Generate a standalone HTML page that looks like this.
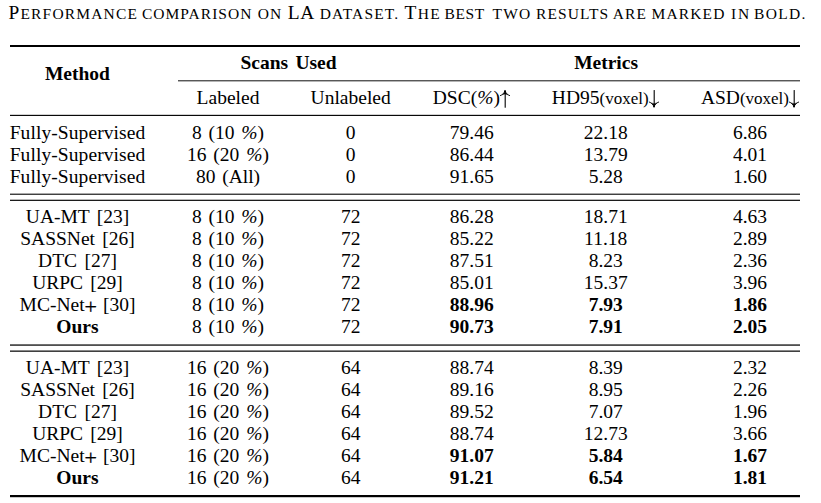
<!DOCTYPE html>
<html><head><meta charset="utf-8"><title>Table</title><style>
html,body{margin:0;padding:0;background:#fff;}
body{width:821px;height:503px;position:relative;overflow:hidden;font-family:"Liberation Serif",serif;color:#000;}
.c{position:absolute;width:140px;text-align:center;font-size:19.5px;line-height:22px;height:22px;white-space:nowrap;word-spacing:2.4px;}
.b{font-weight:bold;}
.s{font-size:17px;}
.pl{font-size:22px;line-height:0;position:relative;top:2.5px;margin:0 -1.2px 0 -0.2px;-webkit-text-stroke:0.3px #000;}
.r{position:absolute;}
.ar{display:inline-block;vertical-align:baseline;margin-bottom:-3.9px;margin-left:0.2px;overflow:visible;}
.ar path{fill:none;stroke:#000;stroke-linecap:round;stroke-linejoin:round;}
.ad{margin-left:0.3px;}
.ar .sh{stroke-width:1.1;}
.ar .hd{stroke-width:1.0;}
.ar .fl{fill:#000;stroke-width:0.3;}
#title{position:absolute;left:0;top:1.67px;width:821px;height:24px;font-size:15.5px;line-height:24px;}
#title .w{position:absolute;top:0;white-space:nowrap;}
#title .B{font-size:19.4px;line-height:0;}
</style></head><body>
<div id="title"><span class="w" style="left:8.50px;letter-spacing:1.17px"><span class="B">P</span>ERFORMANCE</span><span class="w" style="left:142.00px;letter-spacing:1.02px">COMPARISON</span><span class="w" style="left:257.75px;letter-spacing:1.00px">ON</span><span class="w" style="left:287.70px;letter-spacing:0.60px"><span class="B">LA</span></span><span class="w" style="left:319.75px;letter-spacing:1.14px">DATASET.</span><span class="w" style="left:404.50px;letter-spacing:1.38px"><span class="B">T</span>HE</span><span class="w" style="left:444.60px;letter-spacing:0.60px">BEST</span><span class="w" style="left:492.50px;letter-spacing:1.25px">TWO</span><span class="w" style="left:536.00px;letter-spacing:1.08px">RESULTS</span><span class="w" style="left:612.75px;letter-spacing:1.12px">ARE</span><span class="w" style="left:651.50px;letter-spacing:1.15px">MARKED</span><span class="w" style="left:731.10px;letter-spacing:1.80px">IN</span><span class="w" style="left:754.00px;letter-spacing:1.31px">BOLD.</span></div>
<div class="r" style="left:10px;top:45px;width:790px;height:2px;background:#000"></div>
<div class="r" style="left:178px;top:80px;width:622px;height:1px;background:#585858"></div>
<div class="r" style="left:178px;top:81px;width:622px;height:1px;background:#b4b4b4"></div>
<div class="r" style="left:10px;top:114px;width:790px;height:1px;background:#d0d0d0"></div>
<div class="r" style="left:10px;top:115px;width:790px;height:1px;background:#080808"></div>
<div class="r" style="left:10px;top:193px;width:790px;height:1px;background:#a8a8a8"></div>
<div class="r" style="left:10px;top:194px;width:790px;height:1px;background:#404040"></div>
<div class="r" style="left:10px;top:199px;width:790px;height:1px;background:#b8b8b8"></div>
<div class="r" style="left:10px;top:200px;width:790px;height:1px;background:#1c1c1c"></div>
<div class="r" style="left:10px;top:344px;width:790px;height:1px;background:#707070"></div>
<div class="r" style="left:10px;top:345px;width:790px;height:1px;background:#505050"></div>
<div class="r" style="left:10px;top:350px;width:790px;height:1px;background:#888888"></div>
<div class="r" style="left:10px;top:351px;width:790px;height:1px;background:#404040"></div>
<div class="r" style="left:10px;top:495px;width:790px;height:1px;background:#000"></div>
<div class="r" style="left:10px;top:496px;width:790px;height:1px;background:#000"></div>
<div class="r" style="left:10px;top:497px;width:790px;height:1px;background:#c8c8c8"></div>
<div class="c b" style="left:7.40px;top:63.22px;">Method</div>
<div class="c b" style="left:218.50px;top:52.22px;">Scans Used</div>
<div class="c b" style="left:536.10px;top:52.22px;">Metrics</div>
<div class="c" style="left:158.00px;top:87.22px;">Labeled</div>
<div class="c" style="left:280.70px;top:87.22px;">Unlabeled</div>
<div class="c" style="left:401.70px;top:87.22px;">DSC(<i>%</i>)<svg class="ar au" width="10.6" height="18" viewBox="0 0 10.6 18"><path class="sh" d="M5.2 1.0V17.15"/><path class="hd" d="M0.45 5.55C2.50 4.75 4.30 3.25 5.00 0.55C5.70 3.25 7.50 4.75 9.55 5.55"/><path class="fl" d="M5.00 0.45C4.60 2.65 3.80 3.85 2.70 4.75L5.00 3.95L7.30 4.75C6.20 3.85 5.40 2.65 5.00 0.45Z"/></svg></div>
<div class="c" style="left:535.70px;top:87.22px;">HD95<span class="s">(voxel)</span><svg class="ar ad" width="10.6" height="18" viewBox="0 0 10.6 18"><path class="sh" d="M5.2 0.6V16.6"/><path class="hd" d="M0.45 12.10C2.50 12.90 4.30 14.40 5.00 17.10C5.70 14.40 7.50 12.90 9.55 12.10"/><path class="fl" d="M5.00 17.20C4.60 15.00 3.80 13.80 2.70 12.90L5.00 13.70L7.30 12.90C6.20 13.80 5.40 15.00 5.00 17.20Z"/></svg></div>
<div class="c" style="left:680.40px;top:87.22px;">ASD<span class="s">(voxel)</span><svg class="ar ad" width="10.6" height="18" viewBox="0 0 10.6 18"><path class="sh" d="M5.2 0.6V16.6"/><path class="hd" d="M0.45 12.10C2.50 12.90 4.30 14.40 5.00 17.10C5.70 14.40 7.50 12.90 9.55 12.10"/><path class="fl" d="M5.00 17.20C4.60 15.00 3.80 13.80 2.70 12.90L5.00 13.70L7.30 12.90C6.20 13.80 5.40 15.00 5.00 17.20Z"/></svg></div>
<div class="c" style="left:7.50px;top:122.22px;letter-spacing:0.08px;">Fully-Supervised</div>
<div class="c" style="left:158.00px;top:122.22px;word-spacing:1.9px;">8 (10 <i>%</i>)</div>
<div class="c" style="left:280.70px;top:122.22px;">0</div>
<div class="c" style="left:401.70px;top:122.22px;">79.46</div>
<div class="c" style="left:535.70px;top:122.22px;">22.18</div>
<div class="c" style="left:680.00px;top:122.22px;">6.86</div>
<div class="c" style="left:7.50px;top:144.22px;letter-spacing:0.08px;">Fully-Supervised</div>
<div class="c" style="left:158.00px;top:144.22px;word-spacing:1.9px;">16 (20 <i>%</i>)</div>
<div class="c" style="left:280.70px;top:144.22px;">0</div>
<div class="c" style="left:401.70px;top:144.22px;">86.44</div>
<div class="c" style="left:535.70px;top:144.22px;">13.79</div>
<div class="c" style="left:680.00px;top:144.22px;">4.01</div>
<div class="c" style="left:7.50px;top:166.22px;letter-spacing:0.08px;">Fully-Supervised</div>
<div class="c" style="left:158.00px;top:166.22px;word-spacing:1.9px;">80 (All)</div>
<div class="c" style="left:280.70px;top:166.22px;">0</div>
<div class="c" style="left:401.70px;top:166.22px;">91.65</div>
<div class="c" style="left:535.70px;top:166.22px;">5.28</div>
<div class="c" style="left:680.00px;top:166.22px;">1.60</div>
<div class="c" style="left:7.50px;top:206.22px;">UA-MT [23]</div>
<div class="c" style="left:158.00px;top:206.22px;word-spacing:1.9px;">8 (10 <i>%</i>)</div>
<div class="c" style="left:280.70px;top:206.22px;">72</div>
<div class="c" style="left:401.70px;top:206.22px;">86.28</div>
<div class="c" style="left:535.70px;top:206.22px;">18.71</div>
<div class="c" style="left:680.00px;top:206.22px;">4.63</div>
<div class="c" style="left:7.50px;top:228.22px;">SASSNet [26]</div>
<div class="c" style="left:158.00px;top:228.22px;word-spacing:1.9px;">8 (10 <i>%</i>)</div>
<div class="c" style="left:280.70px;top:228.22px;">72</div>
<div class="c" style="left:401.70px;top:228.22px;">85.22</div>
<div class="c" style="left:535.70px;top:228.22px;">11.18</div>
<div class="c" style="left:680.00px;top:228.22px;">2.89</div>
<div class="c" style="left:7.50px;top:250.22px;">DTC [27]</div>
<div class="c" style="left:158.00px;top:250.22px;word-spacing:1.9px;">8 (10 <i>%</i>)</div>
<div class="c" style="left:280.70px;top:250.22px;">72</div>
<div class="c" style="left:401.70px;top:250.22px;">87.51</div>
<div class="c" style="left:535.70px;top:250.22px;">8.23</div>
<div class="c" style="left:680.00px;top:250.22px;">2.36</div>
<div class="c" style="left:7.50px;top:272.22px;">URPC [29]</div>
<div class="c" style="left:158.00px;top:272.22px;word-spacing:1.9px;">8 (10 <i>%</i>)</div>
<div class="c" style="left:280.70px;top:272.22px;">72</div>
<div class="c" style="left:401.70px;top:272.22px;">85.01</div>
<div class="c" style="left:535.70px;top:272.22px;">15.37</div>
<div class="c" style="left:680.00px;top:272.22px;">3.96</div>
<div class="c" style="left:7.50px;top:294.22px;">MC-Net<span class="pl">+</span> [30]</div>
<div class="c" style="left:158.00px;top:294.22px;word-spacing:1.9px;">8 (10 <i>%</i>)</div>
<div class="c" style="left:280.70px;top:294.22px;">72</div>
<div class="c b" style="left:401.70px;top:294.22px;">88.96</div>
<div class="c b" style="left:535.70px;top:294.22px;">7.93</div>
<div class="c b" style="left:680.00px;top:294.22px;">1.86</div>
<div class="c b" style="left:7.50px;top:316.22px;">Ours</div>
<div class="c" style="left:158.00px;top:316.22px;word-spacing:1.9px;">8 (10 <i>%</i>)</div>
<div class="c" style="left:280.70px;top:316.22px;">72</div>
<div class="c b" style="left:401.70px;top:316.22px;">90.73</div>
<div class="c b" style="left:535.70px;top:316.22px;">7.91</div>
<div class="c b" style="left:680.00px;top:316.22px;">2.05</div>
<div class="c" style="left:7.50px;top:357.22px;">UA-MT [23]</div>
<div class="c" style="left:158.00px;top:357.22px;word-spacing:1.9px;">16 (20 <i>%</i>)</div>
<div class="c" style="left:280.70px;top:357.22px;">64</div>
<div class="c" style="left:401.70px;top:357.22px;">88.74</div>
<div class="c" style="left:535.70px;top:357.22px;">8.39</div>
<div class="c" style="left:680.00px;top:357.22px;">2.32</div>
<div class="c" style="left:7.50px;top:379.22px;">SASSNet [26]</div>
<div class="c" style="left:158.00px;top:379.22px;word-spacing:1.9px;">16 (20 <i>%</i>)</div>
<div class="c" style="left:280.70px;top:379.22px;">64</div>
<div class="c" style="left:401.70px;top:379.22px;">89.16</div>
<div class="c" style="left:535.70px;top:379.22px;">8.95</div>
<div class="c" style="left:680.00px;top:379.22px;">2.26</div>
<div class="c" style="left:7.50px;top:401.22px;">DTC [27]</div>
<div class="c" style="left:158.00px;top:401.22px;word-spacing:1.9px;">16 (20 <i>%</i>)</div>
<div class="c" style="left:280.70px;top:401.22px;">64</div>
<div class="c" style="left:401.70px;top:401.22px;">89.52</div>
<div class="c" style="left:535.70px;top:401.22px;">7.07</div>
<div class="c" style="left:680.00px;top:401.22px;">1.96</div>
<div class="c" style="left:7.50px;top:423.22px;">URPC [29]</div>
<div class="c" style="left:158.00px;top:423.22px;word-spacing:1.9px;">16 (20 <i>%</i>)</div>
<div class="c" style="left:280.70px;top:423.22px;">64</div>
<div class="c" style="left:401.70px;top:423.22px;">88.74</div>
<div class="c" style="left:535.70px;top:423.22px;">12.73</div>
<div class="c" style="left:680.00px;top:423.22px;">3.66</div>
<div class="c" style="left:7.50px;top:445.22px;">MC-Net<span class="pl">+</span> [30]</div>
<div class="c" style="left:158.00px;top:445.22px;word-spacing:1.9px;">16 (20 <i>%</i>)</div>
<div class="c" style="left:280.70px;top:445.22px;">64</div>
<div class="c b" style="left:401.70px;top:445.22px;">91.07</div>
<div class="c b" style="left:535.70px;top:445.22px;">5.84</div>
<div class="c b" style="left:680.00px;top:445.22px;">1.67</div>
<div class="c b" style="left:7.50px;top:467.22px;">Ours</div>
<div class="c" style="left:158.00px;top:467.22px;word-spacing:1.9px;">16 (20 <i>%</i>)</div>
<div class="c" style="left:280.70px;top:467.22px;">64</div>
<div class="c b" style="left:401.70px;top:467.22px;">91.21</div>
<div class="c b" style="left:535.70px;top:467.22px;">6.54</div>
<div class="c b" style="left:680.00px;top:467.22px;">1.81</div>
</body></html>
